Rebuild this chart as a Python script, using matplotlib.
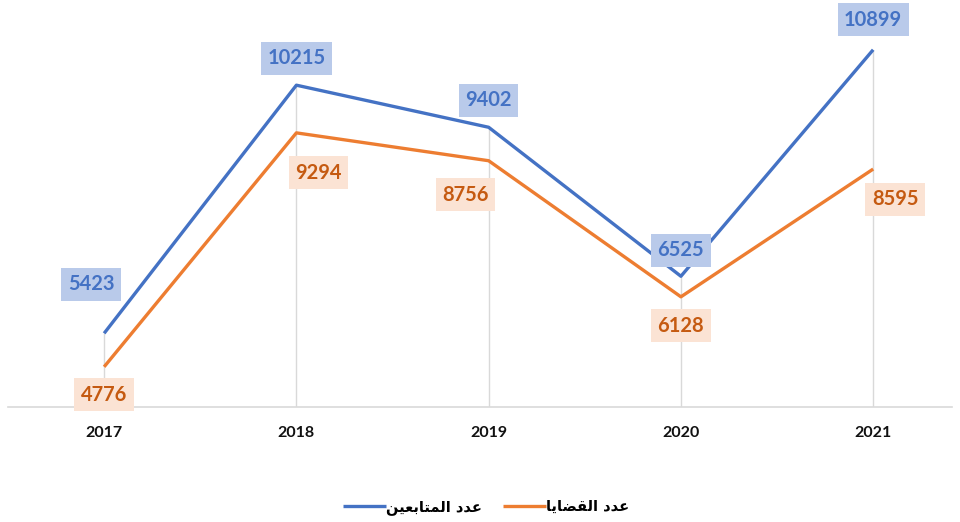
import matplotlib
matplotlib.use("Agg")
import matplotlib.pyplot as plt

years = ["2017", "2018", "2019", "2020", "2021"]
followers = [5423, 10215, 9402, 6525, 10899]   # عدد المتابعين
cases = [4776, 9294, 8756, 6128, 8595]          # عدد القضايا
series_names = ["عدد المتابعين", "عدد القضايا"]

# Arabic shaping (presentation forms) since matplotlib does not shape Arabic
FORMS = {
    "ا": ("\uFE8D", "\uFE8E"),
    "د": ("\uFEA9", "\uFEAA"),
    "ب": ("\uFE8F", "\uFE90", "\uFE91", "\uFE92"),
    "ت": ("\uFE95", "\uFE96", "\uFE97", "\uFE98"),
    "ض": ("\uFEBD", "\uFEBE", "\uFEBF", "\uFEC0"),
    "ع": ("\uFEC9", "\uFECA", "\uFECB", "\uFECC"),
    "ق": ("\uFED5", "\uFED6", "\uFED7", "\uFED8"),
    "ل": ("\uFEDD", "\uFEDE", "\uFEDF", "\uFEE0"),
    "م": ("\uFEE1", "\uFEE2", "\uFEE3", "\uFEE4"),
    "ن": ("\uFEE5", "\uFEE6", "\uFEE7", "\uFEE8"),
    "ي": ("\uFEF1", "\uFEF2", "\uFEF3", "\uFEF4"),
}


def shape(s):
    out = []
    for i, c in enumerate(s):
        f = FORMS.get(c)
        if f is None:
            out.append(c)
            continue
        prev = s[i - 1] if i > 0 else None
        nxt = s[i + 1] if i + 1 < len(s) else None
        jp = prev in FORMS and len(FORMS[prev]) == 4
        jn = nxt in FORMS and len(f) == 4
        if jp and jn:
            g = f[3]
        elif jp:
            g = f[1]
        elif jn:
            g = f[2]
        else:
            g = f[0]
        out.append(g)
    return "".join(reversed(out))


BLUE = "#4472C4"
ORANGE = "#ED7D31"
FONT = "Lato"

fig = plt.figure(figsize=(9.6, 5.22), dpi=100)
ax = fig.add_axes([8 / 960, 1 - 407 / 522, 944 / 960, 407 / 522])
x = list(range(len(years)))

ax.set_xlim(-0.5, 4.41)
ax.set_ylim(4000, 11860)

# drop lines
tops = [max(a, b) for a, b in zip(followers, cases)]
ax.vlines(x, 4000, tops, color="#D9D9D9", lw=1.0, zorder=1)

ax.plot(x, followers, color=BLUE, lw=2.4, zorder=3, solid_capstyle="butt",
        label=shape(series_names[0]))
ax.plot(x, cases, color=ORANGE, lw=2.4, zorder=3, solid_capstyle="butt",
        label=shape(series_names[1]))

blue_off = [(-13, 49), (0, 27), (0, 27), (0, 26), (0, 30)]
orange_off = [(0, -28), (22, -40), (-23, -34), (0, -29), (22, -30)]

for xi, v, (dx, dy) in zip(x, followers, blue_off):
    ax.annotate(str(v), (xi, v), xytext=(dx, dy), textcoords="offset pixels",
                ha="center", va="center", fontsize=14.5, fontweight="bold",
                color=BLUE, family=FONT, zorder=5,
                bbox=dict(boxstyle="square,pad=0.32", fc="#B9CAEA", ec="none"))
for xi, v, (dx, dy) in zip(x, cases, orange_off):
    ax.annotate(str(v), (xi, v), xytext=(dx, dy), textcoords="offset pixels",
                ha="center", va="center", fontsize=14.5, fontweight="bold",
                color="#C55A11", family=FONT, zorder=5,
                bbox=dict(boxstyle="square,pad=0.32", fc="#FBE3D4", ec="none"))

ax.set_xticks(x)
ax.set_xticklabels(years, fontsize=11.5, fontweight="bold", family=FONT, color="#111111")
ax.tick_params(axis="x", length=0, pad=14)
ax.set_yticks([])
for s in ["left", "right", "top"]:
    ax.spines[s].set_visible(False)
ax.spines["bottom"].set_color("#D9D9D9")
ax.spines["bottom"].set_linewidth(1.2)

leg = fig.legend(loc="center", bbox_to_anchor=(486 / 960, 1 - 507 / 522), ncol=2,
                 frameon=False, handlelength=3.0, columnspacing=1.4, handletextpad=0.0,
                 prop={"family": ["DejaVu Sans"], "size": 10.5, "weight": "bold"})

fig.savefig("out.png", dpi=100, facecolor="white")
